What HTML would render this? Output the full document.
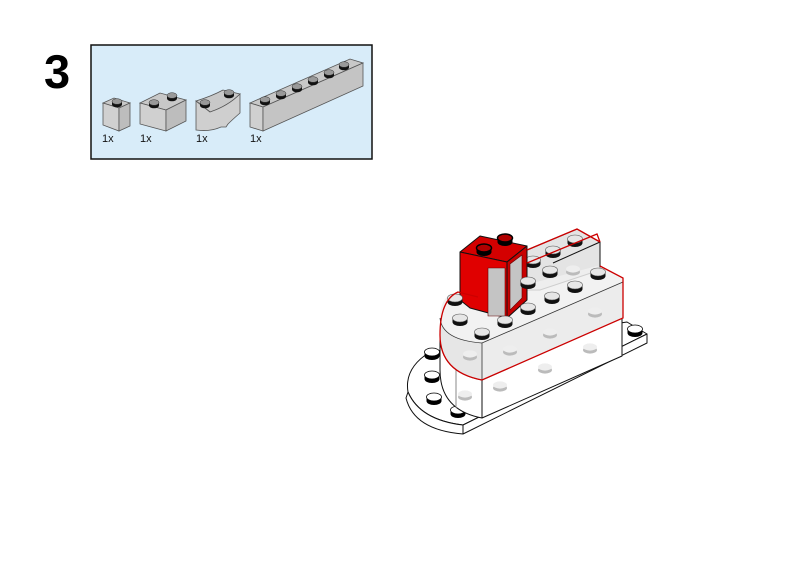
<!DOCTYPE html>
<html><head><meta charset="utf-8"><style>
html,body{margin:0;padding:0;background:#fff;}
svg{display:block}
text{font-family:"Liberation Sans",Arial,sans-serif;}
</style></head><body>
<svg width="800" height="566" viewBox="0 0 800 566" xmlns="http://www.w3.org/2000/svg">
<defs>
<g id="stud"><ellipse cx="0" cy="2" rx="7.5" ry="4" fill="#000"/><rect x="-7.5" y="-2" width="15" height="4" fill="#000"/><ellipse cx="0" cy="-2" rx="7.5" ry="4" fill="#fff" stroke="#000" stroke-width="0.8"/></g>
<g id="rstud"><ellipse cx="0" cy="2" rx="7.5" ry="4" fill="#000"/><rect x="-7.5" y="-2" width="15" height="4" fill="#000"/><ellipse cx="0" cy="-2" rx="7.5" ry="4" fill="#b00000" stroke="#000" stroke-width="1.5"/></g>
<g id="tstud"><ellipse cx="0" cy="2" rx="7.5" ry="4" fill="#111"/><rect x="-7.5" y="-2" width="15" height="4" fill="#111"/><ellipse cx="0" cy="-2" rx="7.5" ry="4" fill="#e6e6e6" stroke="#555" stroke-width="0.6"/></g>
<g id="gstud"><ellipse cx="0" cy="2" rx="7" ry="3.6" fill="#bbb"/><ellipse cx="0" cy="-1" rx="7" ry="3.6" fill="#eee"/></g>
<g id="pstud"><ellipse cx="0" cy="1.5" rx="5" ry="2.8" fill="#111"/><rect x="-5" y="-1.5" width="10" height="3" fill="#111"/><ellipse cx="0" cy="-1.5" rx="5" ry="2.8" fill="#999" stroke="#333" stroke-width="0.5"/></g>
</defs>

<text x="44" y="88" font-size="47" font-weight="bold" fill="#000">3</text>
<rect x="91" y="45" width="281" height="114" fill="#d8ecf9" stroke="#111" stroke-width="1.5"/>

<g stroke="#555" stroke-width="0.8" fill="#c8c8c8">
<polygon points="103,103 114,98 130,103 119,108"/>
<polygon points="103,103 119,108 119,131 103,125" fill="#d0d0d0"/>
<polygon points="119,108 130,103 130,126 119,131" fill="#bdbdbd"/>
</g>
<use href="#pstud" x="117" y="103"/>
<g stroke="#555" stroke-width="0.8" fill="#c8c8c8">
<polygon points="140,103 160,93 186,100 166,110"/>
<polygon points="140,103 166,110 166,131 140,124" fill="#d0d0d0"/>
<polygon points="166,110 186,100 186,121 166,131" fill="#bdbdbd"/>
</g>
<use href="#pstud" x="154" y="104"/><use href="#pstud" x="172" y="97"/>
<g stroke="#555" stroke-width="0.8">
<path d="M196,101 Q212,96 223,90 L240,94 Q228,106 210,112 Z" fill="#c8c8c8"/>
<path d="M196,101 L210,112 Q228,106 240,94 L240,113 Q232,120 228,124 L226,127 L221,127 Q210,132 196,130 Z" fill="#cfcfcf"/>
</g>
<use href="#pstud" x="205" y="104"/><use href="#pstud" x="229" y="94"/>
<g stroke="#555" stroke-width="0.8" fill="#c8c8c8">
<polygon points="250,103 350,59 363,63 263,107"/>
<polygon points="250,103 263,107 263,131 250,127" fill="#d0d0d0"/>
<polygon points="263,107 363,63 363,86 263,131" fill="#c4c4c4"/>
</g>
<use href="#pstud" x="265" y="101"/><use href="#pstud" x="281" y="95"/><use href="#pstud" x="297" y="88"/><use href="#pstud" x="313" y="81"/><use href="#pstud" x="329" y="74"/><use href="#pstud" x="344" y="66"/>
<g font-size="11" fill="#111">
<text x="102" y="142">1x</text><text x="140" y="142">1x</text><text x="196" y="142">1x</text><text x="250" y="142">1x</text>
</g>

<g stroke="#111" stroke-width="1" stroke-linejoin="round">
<path d="M430,352 L627,322 L647,334 L463,425 Q420,420 408,392 Q404,368 430,352 Z" fill="#fff"/>
<path d="M408,392 Q420,420 463,425 L647,334 L647,343 L463,434 Q414,430 406,398 Z" fill="#fff"/>
<line x1="463" y1="425" x2="463" y2="434"/>
</g>
<use href="#stud" x="432" y="354"/><use href="#stud" x="432" y="377"/><use href="#stud" x="434" y="399"/><use href="#stud" x="458" y="412"/><use href="#stud" x="635" y="331"/>

<g stroke="#111" stroke-width="1" stroke-linejoin="round">
<path d="M440,335 Q440,372 482,380 L622,318 L622,356 L482,418 Q440,410 440,370 Z" fill="#fff"/>
<line x1="482" y1="380" x2="482" y2="418"/>
<line x1="456" y1="368" x2="456" y2="408" stroke="#888"/>
</g>
<use href="#gstud" x="465" y="395"/><use href="#gstud" x="500" y="386"/><use href="#gstud" x="545" y="368"/><use href="#gstud" x="590" y="348"/>

<g stroke="#111" stroke-width="1">
<path d="M527,250 L577,229 L600,242 L600,270 L540,290 L527,290 Z" fill="#e4e4e4"/>
<path d="M553,263 L600,242" fill="none"/>
</g>
<use href="#tstud" x="533" y="262"/><use href="#tstud" x="553" y="252"/><use href="#tstud" x="575" y="241"/>

<path d="M440,318 Q440,292 462,292 L480,297 L597,266 L623,278 L623,318 L482,380 Q440,372 440,335 Z" fill="#f0f0f0" fill-opacity="0.85"/>
<path d="M482,343 L623,282 L623,318 L482,380 Z" fill="#ececec"/>
<path d="M440,318 Q442,340 482,343 L482,380 Q440,372 440,335 Z" fill="#e6e6e6"/>
<path d="M440,318 Q442,340 482,343 L623,282" fill="none" stroke="#333" stroke-width="0.8"/>
<line x1="482" y1="343" x2="482" y2="380" stroke="#333" stroke-width="0.8"/>
<use href="#gstud" x="470" y="355"/><use href="#gstud" x="510" y="350"/><use href="#gstud" x="550" y="333"/><use href="#gstud" x="595" y="312"/><use href="#gstud" x="573" y="270"/>

<g stroke="#111" stroke-width="1" stroke-linejoin="round">
<polygon points="460,252 480,236 527,246 507,262" fill="#d40000"/>
<polygon points="460,252 507,262 507,318 470,308 460,300" fill="#e00000"/>
<polygon points="507,262 527,246 527,300 507,318" fill="#c80000"/>
<rect x="488" y="268" width="17" height="48" fill="#c4c4c4" stroke="#600" stroke-width="0.6"/>
<polygon points="510,264 522,255 522,298 510,310" fill="#c4c4c4" stroke="#600" stroke-width="0.6"/>
</g>
<use href="#rstud" x="484" y="250"/><use href="#rstud" x="505" y="240"/>

<use href="#tstud" x="455" y="300"/><use href="#tstud" x="460" y="320"/><use href="#tstud" x="482" y="334"/><use href="#tstud" x="505" y="322"/><use href="#tstud" x="528" y="309"/><use href="#tstud" x="552" y="298"/><use href="#tstud" x="575" y="287"/><use href="#tstud" x="598" y="274"/><use href="#tstud" x="528" y="283"/><use href="#tstud" x="550" y="272"/>

<path d="M440,335 Q440,300 458,292 L478,297 M527,263 L597,234 L600,242 M600,266 L623,278 L623,318 L482,380 Q440,372 440,335" fill="none" stroke="#cc0000" stroke-width="1.3"/>
<path d="M527,250 L577,229 L600,242" fill="none" stroke="#cc0000" stroke-width="1.3"/>
</svg>
</body></html>
